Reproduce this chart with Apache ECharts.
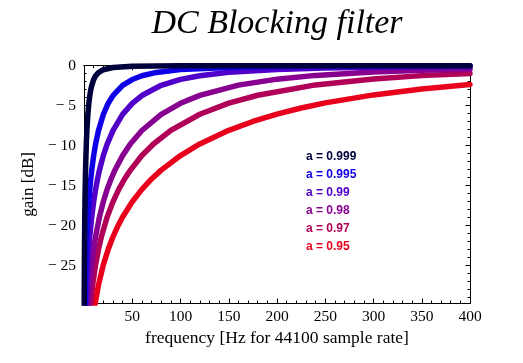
<!DOCTYPE html>
<html><head><meta charset="utf-8">
<script src="https://cdn.jsdelivr.net/npm/echarts@6/dist/echarts.min.js"></script>
<style>html,body{margin:0;padding:0;background:#fff}#c{width:523px;height:363px}</style>
</head><body><div id="c"></div>
<script>
// ---- data ----
const titleText = 'DC Blocking filter';
const seriesNames = ['a = 0.999', 'a = 0.995', 'a = 0.99', 'a = 0.98', 'a = 0.97', 'a = 0.95'];
const seriesColors = ['#00003c', '#1000e6', '#5000c8', '#880090', '#b00058', '#e8001c'];

const freq999 = [0.22, 0.25, 0.3, 0.4, 0.5, 0.75, 1, 1.25, 1.5, 2, 2.5, 3, 4, 5, 6, 7, 8, 10, 12, 15, 20, 30, 50, 100, 200, 400];
const gain999 = [-30.08, -28.97, -27.39, -24.90, -22.97, -19.47, -17.01, -15.12, -13.60, -11.25, -9.49, -8.11, -6.10, -4.73, -3.74, -3.02, -2.48, -1.74, -1.27, -0.86, -0.50, -0.23, -0.08, -0.02, 0.00, 0.00];

const freq995 = [1.1, 1.5, 2, 2.5, 3, 4, 5, 6, 7, 8, 10, 12, 15, 20, 25, 30, 40, 50, 60, 75, 100, 150, 200, 300, 400];
const gain995 = [-30.08, -27.39, -24.90, -22.97, -21.39, -18.92, -17.01, -15.47, -14.17, -13.06, -11.24, -9.80, -8.11, -6.10, -4.72, -3.74, -2.47, -1.73, -1.26, -0.84, -0.49, -0.21, -0.11, -0.04, -0.01];

const freq99 = [2.2, 3, 4, 5, 6, 8, 10, 12, 14, 16, 20, 24, 30, 40, 50, 60, 80, 100, 120, 150, 200, 250, 300, 400];
const gain99 = [-30.08, -27.39, -24.90, -22.97, -21.39, -18.92, -17.01, -15.47, -14.17, -13.06, -11.24, -9.80, -8.11, -6.09, -4.71, -3.73, -2.45, -1.71, -1.25, -0.82, -0.47, -0.29, -0.19, -0.09];

const freq98 = [4.4, 6, 8, 10, 12, 16, 20, 24, 28, 32, 40, 48, 60, 80, 100, 120, 160, 200, 240, 300, 350, 400];
const gain98 = [-30.08, -27.39, -24.90, -22.97, -21.39, -18.92, -17.01, -15.46, -14.17, -13.06, -11.24, -9.79, -8.10, -6.08, -4.70, -3.71, -2.43, -1.68, -1.21, -0.79, -0.57, -0.43];

const freq97 = [6.6, 9, 12, 15, 18, 24, 30, 36, 42, 48, 60, 72, 90, 120, 150, 180, 240, 300, 350, 400];
const gain97 = [-30.08, -27.39, -24.90, -22.97, -21.39, -18.92, -17.01, -15.46, -14.17, -13.06, -11.23, -9.79, -8.09, -6.07, -4.68, -3.69, -2.40, -1.65, -1.24, -0.96];

const freq95 = [11, 15, 20, 25, 30, 35, 40, 50, 60, 70, 80, 100, 120, 150, 175, 200, 225, 250, 300, 350, 400];
const gain95 = [-30.08, -27.39, -24.90, -22.97, -21.39, -20.06, -18.92, -17.01, -15.46, -14.16, -13.05, -11.23, -9.78, -8.08, -6.97, -6.05, -5.29, -4.65, -3.65, -2.91, -2.35];

const xTickValues = [50, 100, 150, 200, 250, 300, 350, 400];
const xTickLabels = ['50', '100', '150', '200', '250', '300', '350', '400'];
const yTickValues = [0, -5, -10, -15, -20, -25];
const yTickLabels = ['0', '\u2212 5', '\u2212 10', '\u2212 15', '\u2212 20', '\u2212 25'];
const xName = 'frequency [Hz for 44100 sample rate]';
const yName = 'gain [dB]';

// ---- build ----
const freqs = [freq999, freq995, freq99, freq98, freq97, freq95];
const gains = [gain999, gain995, gain99, gain98, gain97, gain95];
const X_MIN = 0, X_MAX = 400, Y_MIN = -29.66, Y_MAX = 0;
const xMinor = []; for (let v = 10; v <= X_MAX; v += 10) xMinor.push(v);
const yMinor = []; for (let v = -29; v <= 0; v += 1) yMinor.push(v);

const serifFont = '"Liberation Serif", "DejaVu Serif", serif';
const lineSty = { color: '#000', width: 1 };

function xAx(pos, ticks, len, labels) {
  return {
    type: 'value', position: pos, min: X_MIN, max: X_MAX,
    axisLine: { show: true, onZero: false, lineStyle: lineSty },
    axisTick: { show: true, inside: true, length: len, customValues: ticks, lineStyle: lineSty },
    axisLabel: labels ? {
      show: true, customValues: xTickValues, margin: 6, color: '#000', fontSize: 15.5, fontFamily: serifFont,
      formatter: v => xTickLabels[xTickValues.indexOf(v)]
    } : { show: false },
    splitLine: { show: false }
  };
}
function yAx(pos, ticks, len, labels) {
  return {
    type: 'value', position: pos, min: Y_MIN, max: Y_MAX,
    axisLine: { show: true, onZero: false, lineStyle: lineSty },
    axisTick: { show: true, inside: true, length: len, customValues: ticks, lineStyle: lineSty },
    axisLabel: labels ? {
      show: true, customValues: yTickValues, margin: 8, color: '#000', fontSize: 15.5, fontFamily: serifFont,
      formatter: v => yTickLabels[yTickValues.indexOf(v)]
    } : { show: false },
    splitLine: { show: false }
  };
}

const xAxes = [xAx('bottom', xMinor, 2.5, false), xAx('bottom', xTickValues, 4.5, true), xAx('top', xMinor, 2.5, false), xAx('top', xTickValues, 4.5, false)];
Object.assign(xAxes[1], { name: xName, nameLocation: 'middle', nameGap: 21, nameTextStyle: { color: '#000', fontSize: 17.5, fontFamily: serifFont } });
const yAxes = [yAx('left', yMinor, 2.5, false), yAx('left', yTickValues, 4.5, true), yAx('right', yMinor, 2.5, false), yAx('right', yTickValues, 4.5, false)];
Object.assign(yAxes[1], { name: yName, nameLocation: 'middle', nameGap: 43, nameRotate: 90, nameTextStyle: { color: '#000', fontSize: 17, fontFamily: serifFont } });

const series = [];
for (let i = seriesNames.length - 1; i >= 0; i--) {
  series.push({
    name: seriesNames[i], type: 'line', xAxisIndex: 0, yAxisIndex: 0,
    data: freqs[i].map((f, k) => [f, gains[i][k]]),
    showSymbol: false, smooth: false, clip: true,
    lineStyle: { color: seriesColors[i], width: 5.5, join: 'round', cap: 'round' }, itemStyle: { color: seriesColors[i] }
  });
}

const graphic = seriesNames.map((n, i) => ({
  type: 'text', left: 306, top: 150.5 + 18 * i,
  style: { text: n, fill: seriesColors[i], font: 'bold 12px "Liberation Sans", Arial, sans-serif' }
}));

const chart = echarts.init(document.getElementById('c'), null, { renderer: 'canvas' });
chart.setOption({
  animation: false,
  backgroundColor: '#fff',
  title: {
    text: titleText, left: 272, top: 2, textAlign: 'center',
    textStyle: { fontFamily: serifFont, fontStyle: 'italic', fontWeight: 'normal', fontSize: 34, color: '#000' }
  },
  grid: { left: 84, right: 53, top: 65.7, bottom: 60, containLabel: false },
  xAxis: xAxes,
  yAxis: yAxes,
  series: series,
  graphic: graphic
});
</script>
</body></html>
